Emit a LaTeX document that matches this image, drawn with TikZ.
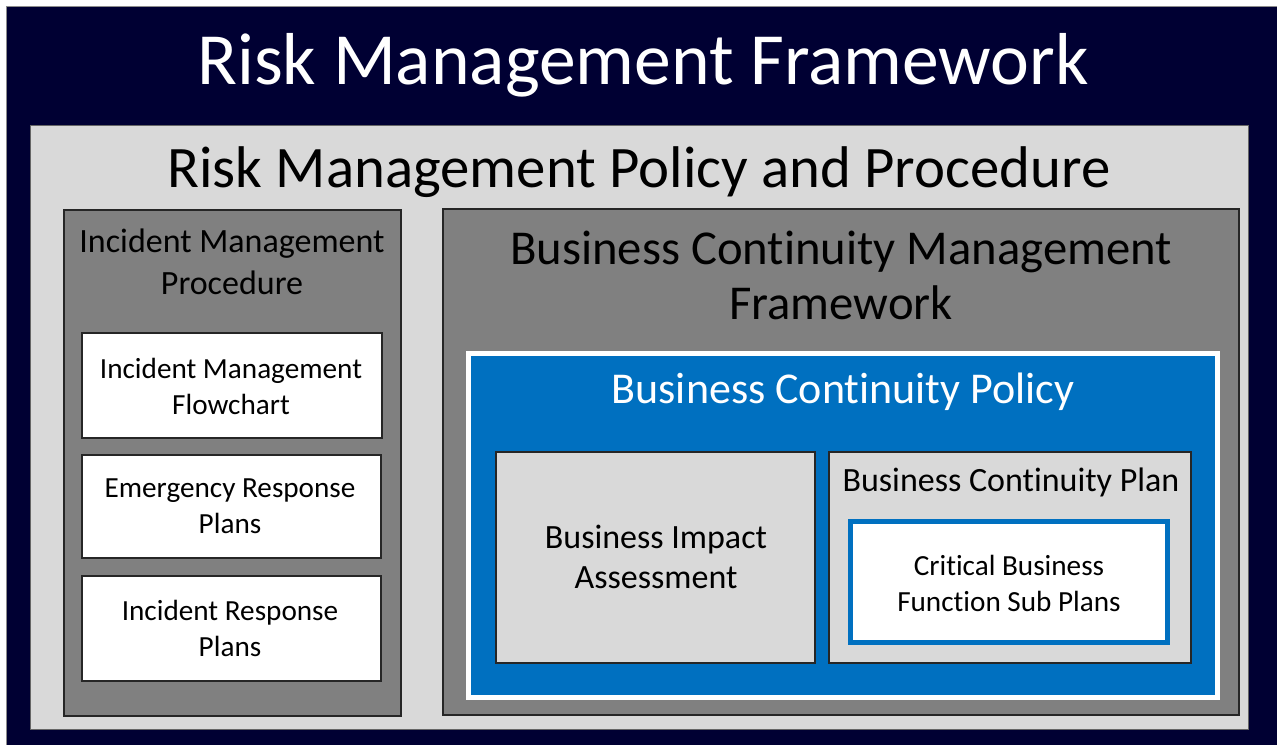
\documentclass[tikz,border=0pt]{standalone}
\usepackage{fontspec}
\setmainfont{Carlito}[Ligatures={NoCommon,NoContextual}]
\usetikzlibrary{fit}

\definecolor{rmfNavy}{HTML}{000033}
\definecolor{rmfLight}{HTML}{D9D9D9}
\definecolor{rmfDark}{HTML}{808080}
\definecolor{rmfBlue}{HTML}{0070C0}

\newcommand{\fs}[2]{\fontsize{#1}{#2}\selectfont}

\tikzset{
  panel/.style={inner sep=0pt, outer sep=0pt},
  darkpanel/.style={panel, fill=rmfDark, draw=black!85, line width=1.1pt},
  whitepanel/.style={panel, fill=white, draw=black!85, line width=1.1pt},
  lightpanel/.style={panel, fill=rmfLight, draw=black!85, line width=1.1pt},
  label/.style={inner sep=0pt, align=center, text=black},
}

\begin{document}
\begin{tikzpicture}[x=0.75pt,y=0.75pt,yscale=-1,xscale=1]
\useasboundingbox (0,0) rectangle (1277,745);

% outer frame
\node[panel, fill=rmfNavy, draw=black!45, line width=0.75pt, fit={(6.5,6.5) (1290,760)}] (rmf) {};
\node[lightpanel, draw=black!60, line width=0.75pt, fit={(30,126) (1248,729)}] (policy) {};

% left column
\node[darkpanel, fit={(64,210) (401,716)}] (imp) {};
\node[whitepanel, fit={(82,333) (382,438)}] (flow) {};
\node[whitepanel, fit={(82,455) (381,558)}] (erp) {};
\node[whitepanel, fit={(82,576) (381,681)}] (irp) {};

% right column
\node[darkpanel, fit={(443,209) (1239,715)}] (bcmf) {};
\node[panel, fill=rmfBlue, draw=white, line width=3.75pt, fit={(468.5,353.5) (1217,697.5)}] (bcpol) {};
\node[lightpanel, fit={(496,452) (815,663)}] (bia) {};
\node[lightpanel, fit={(829,452) (1191,663)}] (bcp) {};
\node[panel, fill=white, draw=rmfBlue, line width=4pt, fit={(850.5,521.5) (1167.5,642.5)}] (cbf) {};

% Text Node
\node[label, text=white, font=\fs{55.2}{60}] (rmftext) at (643,65) {Risk Management Framework};
% Text Node
\node[label, font=\fs{44.1}{50}] (policytext) at (639,172) {Risk Management Policy and Procedure};
% Text Node
\node[label, font=\fs{25.5}{31.5}] (imptext) at (232,262) {Incident Management\\Procedure};
% Text Node
\node[label, font=\fs{21.9}{27}] (flowtext) at (231,386) {Incident Management\\Flowchart};
% Text Node
\node[label, font=\fs{21.9}{27}] (erptext) at (230,506) {Emergency Response\\Plans};
% Text Node
\node[label, font=\fs{21.9}{27}] (irptext) at (230,628) {Incident Response\\Plans};
% Text Node
\node[label, font=\fs{36.5}{41.25}] (bcmftext) at (841,275) {Business Continuity Management\\Framework};
% Text Node
\node[label, text=white, font=\fs{33}{38}] (bcpoltext) at (843,392) {Business Continuity Policy};
% Text Node
\node[label, font=\fs{25.5}{30}] (biatext) at (656,557) {Business Impact\\Assessment};
% Text Node
\node[label, font=\fs{25.5}{30}] (bcptext) at (1011,482) {Business Continuity Plan};
% Text Node
\node[label, font=\fs{21.9}{27}] (cbftext) at (1009,583) {Critical Business\\Function Sub Plans};

\end{tikzpicture}
\end{document}
